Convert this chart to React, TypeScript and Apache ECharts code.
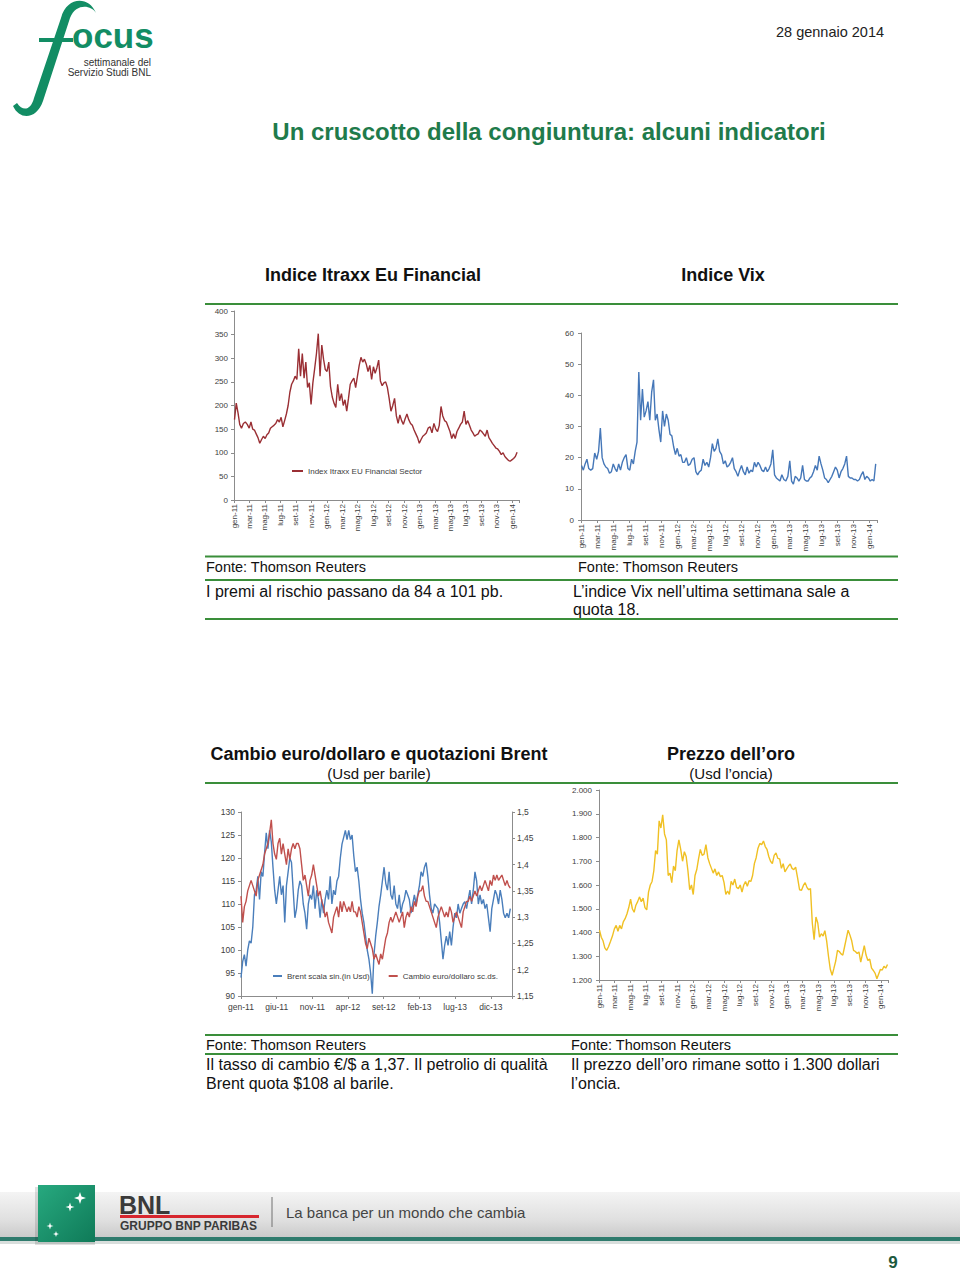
import React, { useEffect, useRef } from 'react';
import * as echarts from 'echarts';

// ---------- DATA ----------
const START_UTC = Date.UTC(2011, 0, 3); // weekly observations from 3 Jan 2011

const monthTicks = ['gen-11','mar-11','mag-11','lug-11','set-11','nov-11','gen-12','mar-12','mag-12','lug-12','set-12','nov-12','gen-13','mar-13','mag-13','lug-13','set-13','nov-13','gen-14'];
const brentTicks = ['gen-11','giu-11','nov-11','apr-12','set-12','feb-13','lug-13','dic-13'];

const itraxx = [170,205,185,160,152,162,165,160,152,165, 150,148,140,132,120,128,135,130,138,142, 152,155,158,162,170,165,175,155,168,182, 200,228,245,252,262,255,320,262,310,258, 292,238,248,202,248,278,310,352,262,328, 298,276,272,292,240,218,205,196,245,210, 225,200,212,188,215,245,252,258,238,262, 285,302,292,298,288,272,285,255,282,268, 280,296,252,242,248,250,238,215,188,200, 215,178,162,180,168,160,172,182,170,162, 158,148,140,132,120,128,135,138,142,152, 155,142,162,150,145,158,198,178,168,165, 155,145,130,140,130,145,152,160,165,188, 160,168,158,148,142,135,138,140,148,145, 140,135,148,132,126,120,115,110,108,103, 96,100,92,88,84,82,85,88,92,101];

const vix = [17.5,16,18,19.5,16.5,16,16.5,21.5,19.5,22, 29.5,20,18,17,16.5,15,15.5,18,16.5,15.5, 18,16,18.5,20,21,16.5,16,19.5,18,22, 25,47.5,32,42,33,35,38,32,41,45, 32,34,29,25,35,30,34,32,27.5,27, 23.5,21,23,20.5,21,18.5,18.5,20,17.5,18, 19.5,20,15.5,14.5,15.5,16,19.5,17.5,18.5,17, 20,24.5,22,23,26,22,21,18,19,17, 17.5,18.5,20,16.5,15.5,14,16,17.5,15.5,14.5, 17,15,16,15.5,18.5,17,18.5,17.5,16,15.5, 17,15.5,16.5,18,22.5,14.5,13.5,13,12.5,14.5, 13,12.5,14,19,12.5,11.5,14,13.5,12.5,13.5, 17.5,13,12.5,12.5,13.5,14,15.5,17.5,16,20.5, 18,16,13.5,13,12,13,14,15.5,17,16, 13.5,15.5,16.5,18,20.5,14,13.5,13.5,13,13, 12.5,13,14.5,15.5,13,14,13.5,12.5,13,12.5, 18];

const brent = [94,97.5,99,96.5,100,102,101.5,105,112,113, 116,111,117,116,121,125.5,122,126,123.5,118, 113,110,113,116,112,114,106,114,117,120, 119,113,107,109,113,115,114,110,108,104.5, 110,112,111,114,109,113,111,107,111,108, 111,113,111,116,110,113,112,115,116,120, 123,124.5,126,124,126,124,125,120.5,117,118, 115,111,108,106,103,100,98,95,90.5,99, 103,106,109.5,112,115,118,114.5,113,117,112, 111,114,110,109,112,108,110,111,113,112, 111,108,110,112,110,112,114,117,116,118, 119,116,112,109,108,110,109.5,109,106,102, 98,101,103,101,104,101,105,108,107,110, 108,109,110,110.5,109,111,113,110,113,117, 115,110,112,110,111,109,110,107,104,109, 111,113,112,110,113,111,108,107,108,107, 109];

const eurusd = [1.34,1.29,1.32,1.33,1.35,1.36,1.37,1.36,1.35,1.34, 1.37,1.38,1.39,1.40,1.42,1.43,1.44,1.46,1.485,1.44, 1.42,1.41,1.44,1.45,1.42,1.44,1.42,1.40,1.43,1.41, 1.43,1.44,1.43,1.44,1.44,1.43,1.40,1.37,1.38,1.36, 1.34,1.37,1.38,1.40,1.38,1.36,1.34,1.35,1.33,1.32, 1.30,1.31,1.29,1.28,1.27,1.30,1.31,1.32,1.30,1.33, 1.31,1.33,1.32,1.31,1.32,1.31,1.33,1.31,1.31,1.30, 1.32,1.31,1.29,1.27,1.25,1.24,1.26,1.25,1.24,1.22, 1.23,1.22,1.21,1.23,1.22,1.24,1.26,1.27,1.29,1.30, 1.29,1.30,1.31,1.30,1.29,1.30,1.31,1.28,1.30,1.31, 1.30,1.32,1.31,1.33,1.32,1.34,1.35,1.35,1.36,1.34, 1.33,1.33,1.32,1.31,1.30,1.29,1.28,1.30,1.31,1.32, 1.31,1.30,1.31,1.30,1.32,1.31,1.29,1.30,1.31,1.30, 1.29,1.28,1.31,1.32,1.33,1.33,1.34,1.33,1.34,1.35, 1.34,1.35,1.36,1.35,1.36,1.37,1.36,1.35,1.37,1.36, 1.38,1.37,1.38,1.37,1.375,1.38,1.37,1.36,1.37,1.36, 1.355];

const gold = [1410,1380,1365,1335,1325,1340,1362,1385,1415,1430, 1405,1430,1415,1445,1458,1478,1505,1540,1500,1485, 1515,1530,1550,1530,1545,1505,1495,1570,1600,1615, 1660,1745,1730,1870,1840,1895,1815,1790,1640,1650, 1610,1680,1660,1745,1790,1750,1700,1740,1720,1660, 1580,1600,1560,1640,1665,1710,1750,1725,1730,1770, 1715,1690,1670,1650,1668,1640,1655,1635,1640,1610, 1560,1575,1560,1615,1600,1625,1590,1585,1600,1570, 1600,1615,1595,1618,1615,1640,1690,1715,1755,1775, 1770,1785,1762,1750,1720,1700,1690,1725,1735,1712, 1710,1670,1690,1655,1668,1680,1688,1670,1665,1675, 1630,1580,1578,1598,1610,1590,1580,1585,1440,1370, 1465,1440,1380,1395,1385,1408,1365,1300,1245,1220, 1250,1280,1325,1320,1310,1305,1340,1375,1410,1390, 1365,1325,1320,1312,1318,1275,1310,1345,1305,1282, 1288,1250,1240,1228,1205,1225,1245,1242,1258,1250, 1265];

const itraxxName = 'Index Itraxx EU Financial Sector';
const brentName = 'Brent scala sin.(in Usd)';
const eurName = 'Cambio euro/dollaro sc.ds.';

// ---------- helpers ----------
function monthPos(i) {
  const d = new Date(START_UTC + i * 7 * 86400000);
  const y = d.getUTCFullYear(), m = d.getUTCMonth(), day = d.getUTCDate();
  const dim = new Date(Date.UTC(y, m + 1, 0)).getUTCDate();
  return (y - 2011) * 12 + m + (day - 1) / dim;
}
const byMonth = (arr) => arr.map((v, i) => [monthPos(i), v]);
const byWeek = (arr) => arr.map((v, i) => [i, v]);

const SANS = '"Liberation Sans", Arial, Helvetica, sans-serif';
const AXIS_COLOR = '#8c8c8c';
const LABEL_COLOR = '#404040';
const GREEN_LINE = '#3a8e3a';

function monthX(gridIndex, max) {
  return {
    type: 'value', gridIndex, min: 0, max, interval: 2,
    splitLine: { show: false },
    axisLine: { show: true, onZero: false, lineStyle: { color: AXIS_COLOR, width: 1 } },
    axisTick: { show: true, length: 3, lineStyle: { color: AXIS_COLOR } },
    axisLabel: {
      rotate: 90, margin: 4, fontSize: 8, color: LABEL_COLOR, fontFamily: SANS,
      formatter: (v) => {
        const k = Math.round(v / 2);
        return Math.abs(v - 2 * k) < 1e-6 && monthTicks[k] ? monthTicks[k] : '';
      },
    },
  };
}

function yVal(gridIndex, min, max, interval, formatter, extra = {}) {
  return {
    type: 'value', gridIndex, min, max, interval,
    splitLine: { show: false },
    axisLine: { show: true, lineStyle: { color: AXIS_COLOR, width: 1 } },
    axisTick: { show: true, length: 3, lineStyle: { color: AXIS_COLOR } },
    axisLabel: { fontSize: 8, color: LABEL_COLOR, fontFamily: SANS, margin: 6, formatter },
    ...extra,
  };
}

function txt(text, x, y, size, o = {}) {
  return {
    type: 'text', x, y, silent: true, z: 10,
    style: {
      text, fontSize: size, fontFamily: o.family || SANS, fontWeight: o.weight || 'normal',
      fontStyle: o.style || 'normal',
      fill: o.color || '#111111',
      textAlign: o.align || 'left', align: o.align || 'left',
      textVerticalAlign: 'middle', verticalAlign: 'middle',
    },
  };
}
function hline(x1, x2, y, color = GREEN_LINE, w = 2) {
  return { type: 'line', silent: true, shape: { x1, y1: y, x2, y2: y }, style: { stroke: color, lineWidth: w } };
}
function star(cx, cy, r) {
  const pts = [];
  for (let k = 0; k < 8; k++) {
    const a = (Math.PI / 4) * k - Math.PI / 2;
    const rr = k % 2 === 0 ? r : r * 0.35;
    pts.push([cx + rr * Math.cos(a), cy + rr * Math.sin(a)]);
  }
  return { type: 'polygon', silent: true, z: 12, shape: { points: pts }, style: { fill: '#ffffff' } };
}

echarts.graphic.registerShape(
  'focusF',
  echarts.graphic.extendPath('M96 13 C91 5 76 3 70 18 L43 101 C37 119 20 121 13 106 L17 103 C23 112 31 110 34 98 L61 18 C67 -4 89 -4 96 13 Z', {})
);

export default function App() {
  const ref = useRef(null);
  useEffect(() => {
    const chart = echarts.init(ref.current, null, { renderer: 'svg' });
    const LOGO = '#128d64';
    const TITLE_GREEN = '#1f7b4b';

    const graphics = [
      // header logo
      { type: 'focusF', x: 0, y: 0, scaleX: 1, scaleY: 1, silent: true, style: { fill: LOGO } },
      { type: 'rect', silent: true, shape: { x: 39, y: 38, width: 34, height: 4 }, style: { fill: LOGO } },
      txt('ocus', 72, 35, 35, { weight: 'bold', color: LOGO }),
      txt('settimanale del', 151, 62, 10, { align: 'right', color: '#333333' }),
      txt('Servizio Studi BNL', 151, 72, 10, { align: 'right', color: '#333333' }),
      txt('28 gennaio 2014', 776, 32, 14.5, { color: '#222222' }),
      txt('Un cruscotto della congiuntura: alcuni indicatori', 549, 131, 24, { weight: 'bold', align: 'center', color: TITLE_GREEN }),

      // section 1
      txt('Indice Itraxx Eu Financial', 373, 275, 18, { weight: 'bold', align: 'center' }),
      txt('Indice Vix', 723, 275, 18, { weight: 'bold', align: 'center' }),
      hline(205, 898, 304),
      hline(205, 898, 556.5),
      hline(205, 898, 580),
      hline(205, 898, 619),
      txt('Fonte: Thomson Reuters', 206, 567, 14.5),
      txt('Fonte: Thomson Reuters', 578, 567, 14.5),
      txt('I premi al rischio passano da 84 a 101 pb.', 206, 591, 16),
      txt('L\u2019indice Vix nell\u2019ultima settimana sale a', 573, 591, 16),
      txt('quota 18.', 573, 609, 16),

      // section 2
      txt('Cambio euro/dollaro e quotazioni Brent', 379, 754, 18, { weight: 'bold', align: 'center' }),
      txt('(Usd per barile)', 379, 773, 15, { align: 'center' }),
      txt('Prezzo dell\u2019oro', 731, 754, 18, { weight: 'bold', align: 'center' }),
      txt('(Usd l\u2019oncia)', 731, 773, 15, { align: 'center' }),
      hline(205, 898, 783),
      hline(205, 898, 1035),
      hline(205, 898, 1054),
      txt('Fonte: Thomson Reuters', 206, 1045, 14.5),
      txt('Fonte: Thomson Reuters', 571, 1045, 14.5),
      txt('Il tasso di cambio \u20ac/$ a 1,37. Il petrolio di qualit\u00e0', 206, 1064, 16),
      txt('Brent quota $108 al barile.', 206, 1083, 16),
      txt('Il prezzo dell\u2019oro rimane sotto i 1.300 dollari', 571, 1064, 16),
      txt('l\u2019oncia.', 571, 1083, 16),

      // footer banner
      {
        type: 'rect', silent: true, shape: { x: 0, y: 1192, width: 960, height: 46 },
        style: { fill: new echarts.graphic.LinearGradient(0, 0, 0, 1, [
          { offset: 0, color: '#f4f4f4' }, { offset: 0.6, color: '#e0e0e0' }, { offset: 1, color: '#c9c9c9' },
        ]) },
      },
      { type: 'rect', silent: true, shape: { x: 0, y: 1237, width: 960, height: 4 }, style: { fill: '#2f7b6d' } },
      { type: 'rect', silent: true, shape: { x: 0, y: 1241, width: 960, height: 3 }, style: { fill: '#d8dedc' } },
      { type: 'rect', silent: true, z: 11, shape: { x: 35, y: 1187, width: 60, height: 58 }, style: { fill: 'rgba(0,0,0,0.12)' } },
      {
        type: 'rect', silent: true, z: 11, shape: { x: 38, y: 1185, width: 57, height: 57 },
        style: { fill: new echarts.graphic.LinearGradient(0, 0, 1, 1, [
          { offset: 0, color: '#27a97f' }, { offset: 1, color: '#0f7a58' },
        ]) },
      },
      star(80, 1198, 6), star(70, 1207, 4.5), star(50, 1226, 3.5), star(56, 1234, 3),
      txt('BNL', 119, 1205, 25, { weight: 'bold', color: '#3a3a3a' }),
      { type: 'rect', silent: true, shape: { x: 120, y: 1215, width: 139, height: 3 }, style: { fill: '#d7262e' } },
      txt('GRUPPO BNP PARIBAS', 120, 1226, 12, { weight: 'bold', color: '#3a3a3a' }),
      { type: 'line', silent: true, shape: { x1: 272, y1: 1197, x2: 272, y2: 1227 }, style: { stroke: '#707070', lineWidth: 1 } },
      txt('La banca per un mondo che cambia', 286, 1212, 15, { color: '#444444' }),
      txt('9', 893, 1262, 17, { weight: 'bold', align: 'center', color: '#1d5a3e' }),
    ];

    const lineSeries = (name, data, color, xi, yi) => ({
      name, type: 'line', data, xAxisIndex: xi, yAxisIndex: yi,
      symbol: 'none', showSymbol: false, smooth: false,
      lineStyle: { color, width: 1.4 }, itemStyle: { color },
    });

    const option = {
      animation: false,
      backgroundColor: '#ffffff',
      textStyle: { fontFamily: SANS },
      grid: [
        { left: 234, top: 311, width: 285, height: 189 },
        { left: 581, top: 333, width: 296, height: 187 },
        { left: 241, top: 812, width: 271, height: 184 },
        { left: 599, top: 790, width: 289, height: 190 },
      ],
      xAxis: [
        monthX(0, 36.86),
        monthX(1, 37),
        {
          type: 'value', gridIndex: 2, min: 0, max: 161, interval: 21.2,
          splitLine: { show: false },
          axisLine: { show: true, onZero: false, lineStyle: { color: AXIS_COLOR, width: 1 } },
          axisTick: { show: true, length: 3, lineStyle: { color: AXIS_COLOR } },
          axisLabel: {
            margin: 6, fontSize: 8.5, color: LABEL_COLOR, fontFamily: SANS,
            formatter: (v) => {
              const k = Math.round(v / 21.2);
              return Math.abs(v - 21.2 * k) < 1e-3 && brentTicks[k] ? brentTicks[k] : '';
            },
          },
        },
        monthX(3, 36.9),
      ],
      yAxis: [
        yVal(0, 0, 400, 50),
        yVal(1, 0, 60, 10, undefined, { axisLabel: { fontSize: 8, color: LABEL_COLOR, fontFamily: SANS, margin: 7 } }),
        yVal(2, 90, 130, 5, undefined, { axisLabel: { fontSize: 8.5, color: LABEL_COLOR, fontFamily: SANS, margin: 6 } }),
        yVal(2, 1.15, 1.5, 0.05, undefined, {
          position: 'right',
          axisLabel: {
            fontSize: 8.5, color: LABEL_COLOR, fontFamily: SANS, margin: 5,
            formatter: (v) => String(Math.round(v * 100) / 100).replace('.', ','),
          },
        }),
        yVal(3, 1200, 2000, 100, undefined, {
          axisLabel: {
            fontSize: 8, color: LABEL_COLOR, fontFamily: SANS, margin: 7,
            formatter: (v) => (v >= 1000 ? Math.floor(v / 1000) + '.' + String(v % 1000).padStart(3, '0') : String(v)),
          },
        }),
      ],
      legend: [
        {
          data: [itraxxName], left: 292, top: 467, icon: 'rect', itemWidth: 11, itemHeight: 2,
          padding: 0, selectedMode: false,
          textStyle: { fontSize: 8, color: LABEL_COLOR, fontFamily: SANS },
        },
        {
          data: [brentName, eurName], left: 273, top: 972, icon: 'rect', itemWidth: 9, itemHeight: 2,
          itemGap: 19, padding: 0, selectedMode: false,
          textStyle: { fontSize: 8, color: LABEL_COLOR, fontFamily: SANS },
        },
      ],
      series: [
        lineSeries(itraxxName, byMonth(itraxx), '#9a2f34', 0, 0),
        lineSeries('Vix', byMonth(vix), '#4577b8', 1, 1),
        lineSeries(brentName, byWeek(brent), '#4a7ebb', 2, 2),
        lineSeries(eurName, byWeek(eurusd), '#c0504d', 2, 3),
        lineSeries('Oro', byMonth(gold), '#f0c023', 3, 4),
      ],
      graphic: { elements: graphics },
    };
    chart.setOption(option);
    return () => chart.dispose();
  }, []);

  return (
    <div
      ref={ref}
      style={{ position: 'absolute', left: 0, top: 0, width: 960, height: 1270, background: '#ffffff' }}
    />
  );
}
